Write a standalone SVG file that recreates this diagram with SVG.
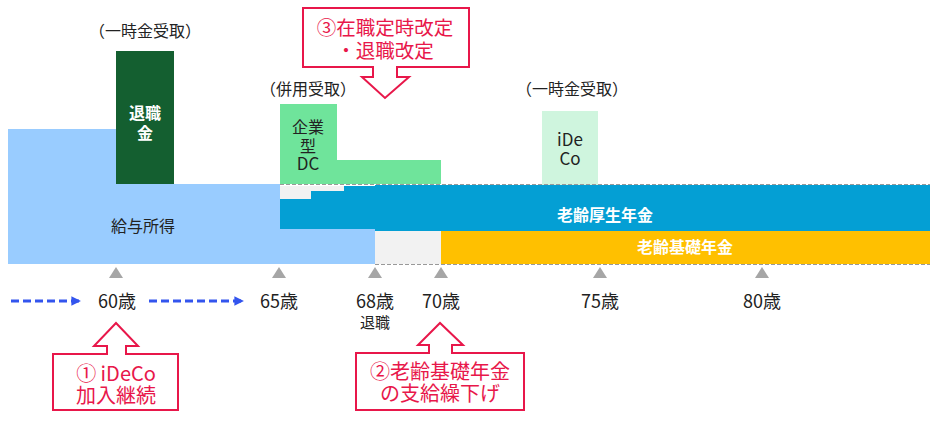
<svg xmlns="http://www.w3.org/2000/svg" width="938" height="426" viewBox="0 0 938 426">
<defs>
<marker id="ah" viewBox="0 0 10 10" refX="9" refY="5" markerWidth="3.2" markerHeight="3.2" orient="auto"><path d="M0,0 L10,5 L0,10 Z" fill="#3355EE"/></marker>
<style>
text{font-family:"Noto Sans CJK JP","Noto Sans",sans-serif;text-anchor:middle}
.lbl{font-size:16px;fill:#222}
.hdr{font-size:16px;fill:#222}
.age{font-size:18px;fill:#222}
.wb{font-size:16px;fill:#fff;font-weight:bold}
.red{font-size:20px;fill:#E8174A}
.call{fill:#fff;stroke:#E8174A;stroke-width:2}
.tri{fill:#A6A6A6}
.dash{stroke:#999;stroke-width:1;stroke-dasharray:4 2;fill:none}
</style>
</defs>
<rect width="938" height="426" fill="#fff"/>
<g id="salary">
<path d="M8,129 H116 V184 H280 V229 H375 V264 H8 Z" fill="#99CCFF"/>
<text class="lbl" x="143" y="232">給与所得</text>
</g>
<g id="gap">
<path d="M280,186 H375 V199 H280 Z" fill="#F2F2F2"/>
<rect x="375" y="231" width="66" height="33" fill="#F2F2F2"/>
</g>
<g id="kosei">
<path d="M280,199 H311 V191 H344 V186 H375 V185 H930 V231 H375 V229 H280 Z" fill="#049FD4"/>
<text class="wb" x="605" y="221">老齢厚生年金</text>
</g>
<g id="kiso">
<rect x="441" y="231" width="489" height="33" fill="#FFC000"/>
<text class="wb" x="685" y="253">老齢基礎年金</text>
</g>
<g id="taishokukin">
<rect x="116" y="51" width="58" height="133" fill="#145F30"/>
<text class="wb" x="145" y="119">退職<tspan x="145" dy="20">金</tspan></text>
</g>
<g id="dc">
<path d="M280,104 H337 V160 H441 V184 H280 Z" fill="#6FE49B"/>
<text class="lbl" x="308" y="133">企業<tspan x="308" dy="19">型</tspan><tspan x="308" dy="18" style="font-size:17px">DC</tspan></text>
</g>
<g id="ideco">
<rect x="542" y="111" width="56" height="74" fill="#CFF5DE"/>
<text class="lbl" x="570" y="146" style="font-size:17px">iDe<tspan x="570" dy="19">Co</tspan></text>
</g>
<g id="dashes">
<path class="dash" d="M280,184.5 H930"/>
<path class="dash" d="M375,264.5 H930"/>
</g>
<g id="headers">
<text class="hdr" x="145" y="37">（一時金受取）</text>
<text class="hdr" x="308" y="95">（併用受取）</text>
<text class="hdr" x="572" y="95">（一時金受取）</text>
</g>
<g id="axis">
<path class="tri" d="M109,278 L116,267 L123,278 Z"/>
<path class="tri" d="M272,278 L279,267 L286,278 Z"/>
<path class="tri" d="M368,278 L375,267 L382,278 Z"/>
<path class="tri" d="M434,278 L441,267 L448,278 Z"/>
<path class="tri" d="M593,278 L600,267 L607,278 Z"/>
<path class="tri" d="M755,278 L762,267 L769,278 Z"/>
<text class="age" x="117" y="308">60歳</text>
<text class="age" x="279" y="308">65歳</text>
<text class="age" x="375" y="308">68歳<tspan x="375" dy="20" style="font-size:15px">退職</tspan></text>
<text class="age" x="441" y="308">70歳</text>
<text class="age" x="600" y="308">75歳</text>
<text class="age" x="762" y="308">80歳</text>
</g>
<g id="connectors">
<path d="M11,301 H80" stroke="#3355EE" stroke-width="3" stroke-dasharray="8 4" fill="none" marker-end="url(#ah)"/>
<path d="M149,301 H243" stroke="#3355EE" stroke-width="3" stroke-dasharray="8 4" fill="none" marker-end="url(#ah)"/>
</g>
<g id="callout1">
<path class="call" d="M53,354 H107 V346 H94 L116,323 L138,346 H126 V354 H178 V410 H53 Z"/>
<text class="red" x="116" y="381">① iDeCo<tspan x="116" dy="22">加入継続</tspan></text>
</g>
<g id="callout2">
<path class="call" d="M356,353 H429 V345 H418 L440,323 L463,345 H452 V353 H524 V410 H356 Z"/>
<text class="red" x="440" y="379">②老齢基礎年金<tspan x="440" dy="22">の支給繰下げ</tspan></text>
</g>
<g id="callout3">
<path class="call" d="M303,8 H469 V67 H397 V77 H409 L385,98 L362,77 H373 V67 H303 Z"/>
<text class="red" x="385" y="35" style="font-size:19.5px">③在職定時改定<tspan x="385" dy="23">・退職改定</tspan></text>
</g>
</svg>
